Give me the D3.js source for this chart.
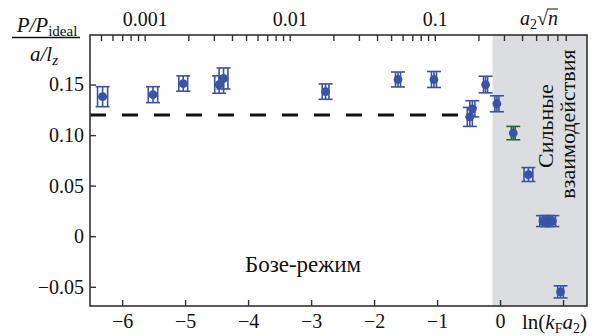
<!DOCTYPE html>
<html>
<head>
<meta charset="utf-8">
<script src="https://cdn.jsdelivr.net/npm/d3@7"></script>
<style>
  body { margin: 0; background: #fff; }
</style>
</head>
<body>
<svg id="chart" width="603" height="336"></svg>
<script>
// measured points: x = ln(kF a2), y = (P/Pideal)/(a/lz)
const lnkFa2 = [-6.31, -5.51, -5.03, -4.46, -4.39, -2.77, -1.62, -1.05, -0.48, -0.44, -0.23, -0.05, 0.21, 0.45, 0.68, 0.75, 0.83, 0.96];
const ratio  = [0.138, 0.140, 0.151, 0.150, 0.156, 0.143, 0.155, 0.155, 0.118, 0.126, 0.150, 0.131, 0.102, 0.061, 0.015, 0.015, 0.015, -0.055];
const errX   = [0.08, 0.075, 0.07, 0.07, 0.07, 0.053, 0.04, 0.04, 0.04, 0.04, 0.032, 0.032, 0.03, 0.07, 0.05, 0.05, 0.05, 0.045];
const errY   = [0.0099, 0.0079, 0.0076, 0.0086, 0.0104, 0.0076, 0.0074, 0.0079, 0.0094, 0.008, 0.0082, 0.0079, 0.0066, 0.0069, 0.0054, 0.0054, 0.0054, 0.006];
const group  = ["b", "b", "b", "b", "b", "b", "b", "b", "b", "b", "b", "b", "g", "b", "b", "b", "b", "b"];

const yTicks = [-0.05, 0, 0.05, 0.10, 0.15];
const xTicks = [-6, -5, -4, -3, -2, -1, 0, 1];
const topTicks = [0.0005, 0.0006, 0.0007, 0.0008, 0.0009,
  0.001, 0.002, 0.003, 0.004, 0.005, 0.006, 0.007, 0.008, 0.009,
  0.01, 0.02, 0.03, 0.04, 0.05, 0.06, 0.07, 0.08, 0.09,
  0.1, 0.2, 0.3, 0.4, 0.5, 0.6, 0.7, 0.8];
const topLabels = [0.001, 0.01, 0.1];

const bosonLevel = 0.12;
const bosonEnd = -0.47;
const strongStart = -0.12;

const X0 = 90, X1 = 587, Y0 = 35, Y1 = 306;
const BLUE = "#3a53a5", GREEN = "#1f6a3c", AXIS = "#333";
const SERIF = '"Liberation Serif", "Times New Roman", Times, "DejaVu Serif", serif';

const svg = d3.select("#chart");
const x = d3.scaleLinear().domain([-6.51, 1.38]).range([X0, X1]);
const y = d3.scaleLinear().domain([-0.069, 0.199]).range([Y1, Y0]);

// kF = sqrt(4 pi n)  ->  a2 sqrt(n) = kF a2 / sqrt(4 pi)
const shift = 0.5 * Math.log(4 * Math.PI);
const xTop = d3.scaleLog()
  .domain([Math.exp(x.domain()[0] - shift), Math.exp(x.domain()[1] - shift)])
  .range([X0, X1]);

// strong-interaction band
svg.append("rect")
  .attr("x", x(strongStart)).attr("y", Y0)
  .attr("width", X1 - x(strongStart)).attr("height", Y1 - Y0)
  .attr("fill", "#dcdde0");

// dashed boson line
svg.append("line")
  .attr("x1", x(x.domain()[0])).attr("x2", x(bosonEnd))
  .attr("y1", y(bosonLevel)).attr("y2", y(bosonLevel))
  .attr("stroke", "#111").attr("stroke-width", 3)
  .attr("stroke-dasharray", "16,16");

// axes
const fmtY = d => d === 0 ? "0" : d3.format(".2f")(d);
const axBottom = svg.append("g").attr("transform", `translate(0,${Y1})`)
  .call(d3.axisBottom(x).tickValues(xTicks).tickSize(-6).tickPadding(8)
    .tickFormat(d => d === 1 ? "" : d3.format("d")(d)));
const axLeft = svg.append("g").attr("transform", `translate(${X0},0)`)
  .call(d3.axisLeft(y).tickValues(yTicks).tickSize(-6).tickPadding(6).tickFormat(fmtY));
const axTop = svg.append("g").attr("transform", `translate(0,${Y0})`)
  .call(d3.axisTop(xTop).tickValues(topTicks).tickSize(-6).tickPadding(9)
    .tickFormat(d => topLabels.some(v => Math.abs(v - d) < 1e-9) ? String(d) : ""));

[axBottom, axLeft, axTop].forEach(g => {
  g.select(".domain").remove();
  g.selectAll("line").attr("stroke", AXIS).attr("stroke-width", 1.4);
  g.selectAll("text").style("font-size", "20px").style("font-family", SERIF).attr("fill", "#111");
});

// frame
svg.append("rect")
  .attr("x", X0).attr("y", Y0).attr("width", X1 - X0).attr("height", Y1 - Y0)
  .attr("fill", "none").attr("stroke", AXIS).attr("stroke-width", 1.6);

// points with x and y error bars
const pts = lnkFa2.map((v, i) => ({ x: v, y: ratio[i], dx: errX[i], dy: errY[i], g: group[i] }));
const pg = svg.append("g").selectAll("g").data(pts).join("g")
  .attr("stroke", d => d.g === "g" ? GREEN : BLUE)
  .attr("stroke-width", 1.6).attr("fill", "none");

pg.append("line")
  .attr("x1", d => x(d.x)).attr("x2", d => x(d.x))
  .attr("y1", d => y(d.y - d.dy)).attr("y2", d => y(d.y + d.dy));
pg.append("line")
  .attr("x1", d => x(d.x - d.dx)).attr("x2", d => x(d.x + d.dx))
  .attr("y1", d => y(d.y)).attr("y2", d => y(d.y));
[-1, 1].forEach(s => {
  pg.append("line")
    .attr("x1", d => x(d.x) - 7).attr("x2", d => x(d.x) + 7)
    .attr("y1", d => y(d.y + s * d.dy)).attr("y2", d => y(d.y + s * d.dy));
  pg.append("line")
    .attr("x1", d => x(d.x + s * d.dx)).attr("x2", d => x(d.x + s * d.dx))
    .attr("y1", d => y(d.y - d.dy)).attr("y2", d => y(d.y + d.dy));
});
pg.append("circle")
  .attr("cx", d => x(d.x)).attr("cy", d => y(d.y)).attr("r", 4.4)
  .attr("fill", BLUE).attr("stroke", "none");

const txt = (sel) => sel.append("text").style("font-family", SERIF).style("font-size", "20px").attr("fill", "#111");

// y label as fraction
const yl = txt(svg).attr("x", 47).attr("y", 32).attr("text-anchor", "middle").style("font-size", "21px");
yl.append("tspan").style("font-style", "italic").text("P/P");
yl.append("tspan").style("font-size", "15px").attr("dy", 4).text("ideal");
svg.append("line").attr("x1", 12).attr("x2", 80).attr("y1", 37.5).attr("y2", 37.5)
  .attr("stroke", "#111").attr("stroke-width", 1.3);
const yl2 = txt(svg).attr("x", 44).attr("y", 61).attr("text-anchor", "middle").style("font-size", "21px");
yl2.append("tspan").style("font-style", "italic").text("a/l");
yl2.append("tspan").style("font-style", "italic").style("font-size", "15px").attr("dy", 4).text("z");

// bottom axis title
const xl = txt(svg).attr("x", 522).attr("y", 329).style("font-size", "21px");
xl.append("tspan").text("ln(");
xl.append("tspan").style("font-style", "italic").text("k");
xl.append("tspan").style("font-size", "14px").attr("dy", 4).text("F");
xl.append("tspan").style("font-style", "italic").attr("dy", -4).text("a");
xl.append("tspan").style("font-size", "14px").attr("dy", 4).text("2");
xl.append("tspan").attr("dy", -4).text(")");

// top axis title a2 sqrt(n)
const tl = txt(svg).attr("x", 520).attr("y", 25);
tl.append("tspan").style("font-style", "italic").text("a");
tl.append("tspan").style("font-size", "14px").attr("dy", 4).text("2");
tl.append("tspan").attr("dy", -4).text("\u221A");
tl.append("tspan").style("font-style", "italic").text("n");
const tn = tl.node();
const n0 = tn.getStartPositionOfChar(3).x, n1 = tn.getEndPositionOfChar(3).x;
svg.append("line").attr("x1", n0 - 1).attr("x2", n1).attr("y1", 9).attr("y2", 9)
  .attr("stroke", "#111").attr("stroke-width", 1);

// region labels
txt(svg).attr("x", 303).attr("y", 272).attr("text-anchor", "middle").style("font-size", "23px").text("Бозе-режим");
txt(svg).attr("transform", "translate(553,126) rotate(-90)")
  .attr("text-anchor", "middle").style("font-size", "22px").text("Сильные");
txt(svg).attr("transform", "translate(575,124) rotate(-90)")
  .attr("text-anchor", "middle").style("font-size", "22px").text("взаимодействия");
</script>
</body>
</html>
